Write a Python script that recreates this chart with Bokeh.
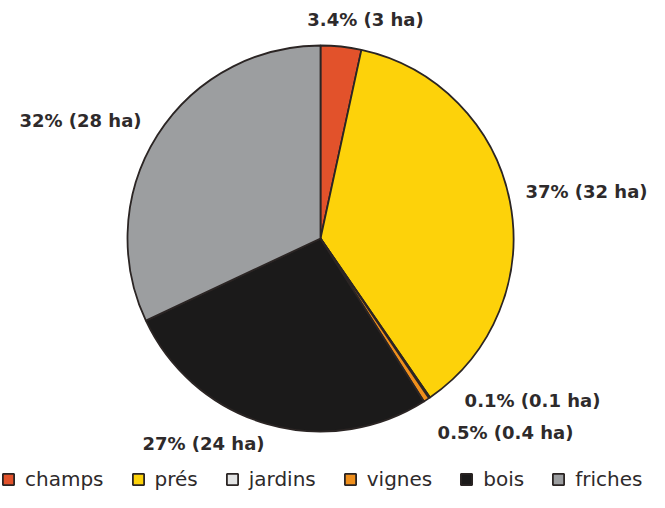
import math
from bokeh.plotting import figure
from bokeh.models import Range1d, Legend, LegendItem, ColumnDataSource
from bokeh.core.properties import value
from bokeh.embed import file_html
from bokeh.resources import INLINE

# ---- data ----
categories = ["champs", "prés", "jardins", "vignes", "bois", "friches"]
percent = [3.4, 37, 0.1, 0.5, 27, 32]
hectares = [3, 32, 0.1, 0.4, 24, 28]
colors = ["#e2522b", "#fdd20a", "#e3e4e4", "#ef8f1c", "#1b1a1a", "#9c9ea0"]

# ---- layout constants (px, image coordinates) ----
W, H = 649, 492
CX, CY, R = 320, 238, 193
label_pos = [(365, 19), (586, 191), (532, 400), (505, 432), (203, 443), (80, 120)]

def sy(y):
    return H - y

p = figure(width=W, height=H, x_range=Range1d(0, W), y_range=Range1d(0, H),
           output_backend="svg", toolbar_location=None, min_border=0)
p.axis.visible = False
p.grid.visible = False
p.outline_line_color = None
p.background_fill_color = "white"

total = sum(percent)
starts, ends = [], []
cum = 0.0
for v in percent:
    starts.append(math.pi / 2 - 2 * math.pi * cum / total)
    cum += v
    ends.append(math.pi / 2 - 2 * math.pi * cum / total)

renderers = []
for i, cat in enumerate(categories):
    r = p.wedge(x=CX, y=sy(CY), radius=R, start_angle=starts[i], end_angle=ends[i],
                direction="clock", fill_color=colors[i], line_color="#2b2524",
                line_width=1.8)
    renderers.append(r)

def fmt(v):
    return "%g" % v

labels = ["%s%% (%s ha)" % (fmt(pc), fmt(ha)) for pc, ha in zip(percent, hectares)]
src = ColumnDataSource(dict(x=[q[0] for q in label_pos], y=[sy(q[1]) for q in label_pos],
                            t=labels))
p.text(x="x", y="y", text="t", source=src, text_align="center", text_baseline="middle",
       text_font=value("DejaVu Sans"), text_font_style="bold", text_font_size="18px",
       text_color="#2e2a2b")

legend = Legend(items=[LegendItem(label=c, renderers=[r]) for c, r in zip(categories, renderers)],
                orientation="horizontal", location=(1, 1))
legend.background_fill_alpha = 0
legend.border_line_alpha = 0
legend.padding = 0
legend.margin = 0
legend.spacing = 27
legend.label_standoff = 10
legend.glyph_width = 14
legend.glyph_height = 14
legend.label_text_font = "DejaVu Sans"
legend.label_text_font_size = "20px"
legend.label_text_color = "#2e2a2b"
legend.label_text_baseline = "middle"
p.add_layout(legend)

open("out.html", "w").write(file_html(p, INLINE))
